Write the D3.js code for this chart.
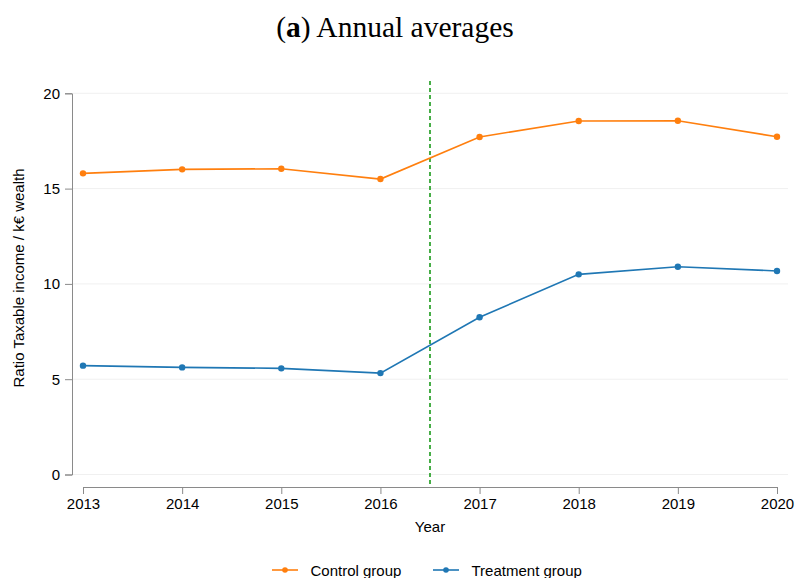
<!DOCTYPE html>
<html>
<head>
<meta charset="utf-8">
<script src="https://cdn.jsdelivr.net/npm/d3@7"></script>
<style>
  html, body { margin: 0; padding: 0; background: #fff; }
  svg { display: block; }
</style>
</head>
<body>
<svg id="chart" width="795" height="578"></svg>
<script>
// Annual averages of taxable income per k€ of wealth, by group
const years = [2013, 2014, 2015, 2016, 2017, 2018, 2019, 2020];
const controlValues = [15.80, 16.01, 16.04, 15.50, 17.71, 18.55, 18.56, 17.72];
const treatmentValues = [5.71, 5.62, 5.57, 5.32, 8.25, 10.50, 10.90, 10.68];
const yTicks = [0, 5, 10, 15, 20];
const seriesNames = ["Control group", "Treatment group"];
const seriesColors = ["#ff7f0e", "#1f77b4"];
const treatmentYear = 2016.5;

const svg = d3.select("#chart");
const sans = "'Liberation Sans', Arial, sans-serif";

const x = d3.scaleLinear().domain([2013, 2020]).range([83, 777]);
const y = d3.scaleLinear().domain([0, 20]).range([474.5, 93.3]);

// Title
const title = svg.append("text")
  .attr("x", 395).attr("y", 37)
  .attr("text-anchor", "middle")
  .style("font-family", "'Liberation Serif', 'Times New Roman', serif")
  .style("font-size", "29.5px")
  .attr("fill", "#000");
title.append("tspan").text("(");
title.append("tspan").style("font-weight", "bold").text("a");
title.append("tspan").text(") Annual averages");

// Horizontal gridlines
svg.append("g").selectAll("line").data(yTicks).join("line")
  .attr("x1", 73).attr("x2", 788)
  .attr("y1", d => y(d)).attr("y2", d => y(d))
  .attr("stroke", "#f0f0f0").attr("stroke-width", 1);

// Y axis
const yAxis = svg.append("g")
  .attr("transform", "translate(72,0)")
  .call(d3.axisLeft(y).tickValues(yTicks).tickSize(7).tickPadding(5));
yAxis.select(".domain").attr("stroke", "#8a8a8a");
yAxis.selectAll(".tick line").attr("stroke", "#8a8a8a");
yAxis.selectAll(".tick text")
  .style("font-family", sans).style("font-size", "15px").attr("fill", "#000");

// X axis
const xAxis = svg.append("g")
  .attr("transform", "translate(0,487)")
  .call(d3.axisBottom(x).tickValues(years).tickFormat(d3.format("d")).tickSize(7).tickPadding(4));
xAxis.select(".domain").attr("stroke", "#8a8a8a");
xAxis.selectAll(".tick line").attr("stroke", "#8a8a8a");
xAxis.selectAll(".tick text")
  .style("font-family", sans).style("font-size", "15px").attr("fill", "#000");

// Axis titles
svg.append("text")
  .attr("x", x(2016.5)).attr("y", 532)
  .attr("text-anchor", "middle")
  .style("font-family", sans).style("font-size", "15px")
  .text("Year");

svg.append("text")
  .attr("transform", `translate(24,278) rotate(-90)`)
  .attr("text-anchor", "middle")
  .style("font-family", sans).style("font-size", "15px")
  .text("Ratio Taxable income / k€ wealth");

// Treatment cutoff
svg.append("line")
  .attr("x1", x(treatmentYear)).attr("x2", x(treatmentYear))
  .attr("y1", 81).attr("y2", 487)
  .attr("stroke", "#1a9a1a").attr("stroke-width", 1.6)
  .attr("stroke-dasharray", "4,3");

// Series
const series = [controlValues, treatmentValues];
const line = d3.line().x((d, i) => x(years[i])).y(d => y(d));

series.forEach((vals, s) => {
  const g = svg.append("g");
  g.append("path")
    .datum(vals)
    .attr("d", line)
    .attr("fill", "none")
    .attr("stroke", seriesColors[s])
    .attr("stroke-width", 1.6);
  g.selectAll("circle").data(vals).join("circle")
    .attr("cx", (d, i) => x(years[i]))
    .attr("cy", d => y(d))
    .attr("r", 3.2)
    .attr("fill", seriesColors[s]);
});

// Legend
const legendX = [272, 433];
seriesNames.forEach((name, s) => {
  const g = svg.append("g").attr("transform", `translate(${legendX[s]},570)`);
  g.append("line").attr("x1", 0).attr("x2", 26).attr("y1", 0).attr("y2", 0)
    .attr("stroke", seriesColors[s]).attr("stroke-width", 1.6);
  g.append("circle").attr("cx", 13).attr("cy", 0).attr("r", 2.8).attr("fill", seriesColors[s]);
  g.append("text").attr("x", 38.5).attr("y", 5.5)
    .style("font-family", sans).style("font-size", "15px")
    .text(name);
});
</script>
</body>
</html>
